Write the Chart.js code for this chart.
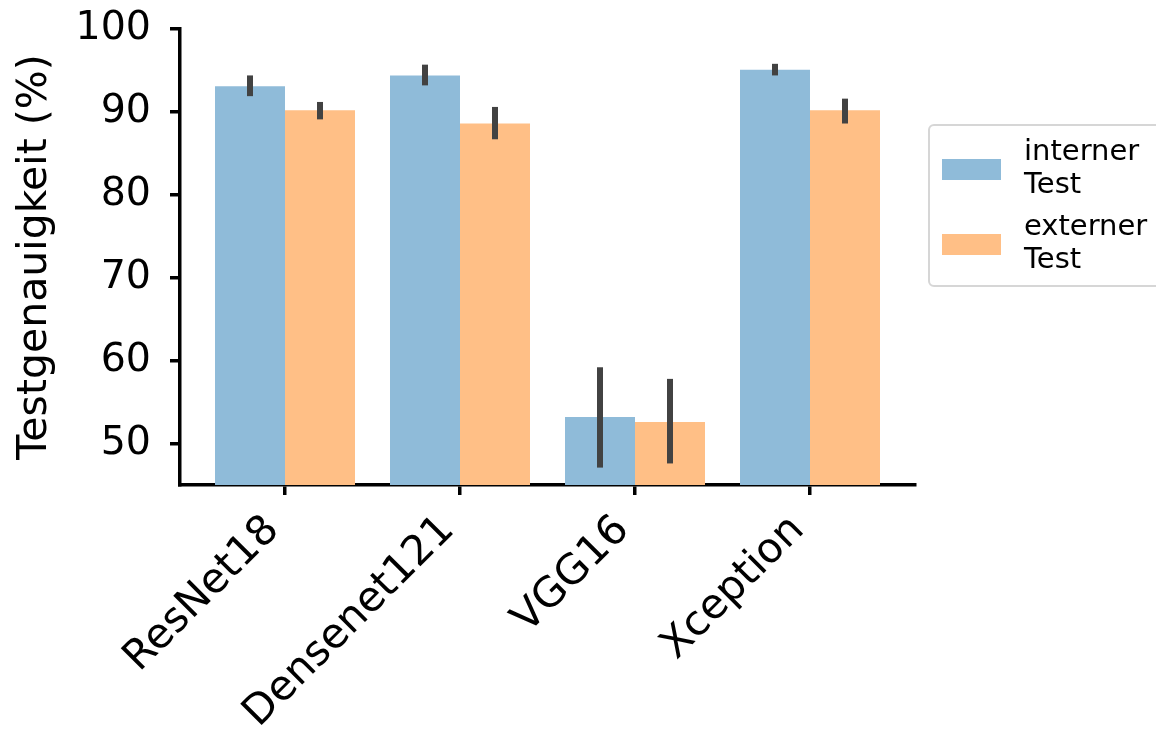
<!DOCTYPE html>
<html>
<head>
<meta charset="utf-8">
<script src="https://cdn.jsdelivr.net/npm/chart.js@4/dist/chart.umd.min.js"></script>
<style>
  body { margin: 0; background: #fff; }
  #wrap { width: 1156px; height: 729px; }
</style>
</head>
<body>
<div id="wrap"><canvas id="myChart" width="1156" height="729"></canvas></div>
<script>
const modelos = ['ResNet18', 'Densenet121', 'VGG16', 'Xception'];
const serieNombres = [['interner', 'Test'], ['externer', 'Test']];
const interno = [93.1, 94.4, 53.2, 95.1];
const externo = [90.2, 88.6, 52.6, 90.2];
const internoMin = [91.9, 93.2, 47.1, 94.4];
const internoMax = [94.4, 95.7, 59.2, 95.8];
const externoMin = [89.1, 86.7, 47.6, 88.6];
const externoMax = [91.2, 90.6, 57.8, 91.6];
const yTicks = [50, 60, 70, 80, 90, 100];

const colores = ['#8fbbd9', '#ffbf86'];
const fuente = 'DejaVu Sans';

const errores = [
  { min: internoMin, max: internoMax },
  { min: externoMin, max: externoMax }
];

// barras de error con las escalas del grafico
const errorBars = {
  id: 'errorBars',
  afterDatasetsDraw(chart) {
    const ctx = chart.ctx;
    const y = chart.scales.y;
    ctx.save();
    ctx.strokeStyle = '#424242';
    ctx.lineWidth = 6;
    chart.data.datasets.forEach((ds, i) => {
      const meta = chart.getDatasetMeta(i);
      meta.data.forEach((bar, j) => {
        ctx.beginPath();
        ctx.moveTo(bar.x, y.getPixelForValue(errores[i].min[j]));
        ctx.lineTo(bar.x, y.getPixelForValue(errores[i].max[j]));
        ctx.stroke();
      });
    });
    ctx.restore();
  }
};

// leyenda a la derecha con etiquetas de dos lineas
const leyenda = {
  id: 'leyenda',
  afterDraw(chart) {
    const ctx = chart.ctx;
    const x0 = 929, y0 = 125, w = 240, h = 161;
    ctx.save();
    ctx.fillStyle = 'rgba(255,255,255,0.8)';
    ctx.strokeStyle = '#d6d6d6';
    ctx.lineWidth = 2;
    ctx.beginPath();
    ctx.roundRect(x0, y0, w, h, 5);
    ctx.fill();
    ctx.stroke();
    ctx.font = '29px "' + fuente + '"';
    ctx.textBaseline = 'middle';
    serieNombres.forEach((lineas, i) => {
      const top = y0 + 34 + i * 75;
      ctx.fillStyle = colores[i];
      ctx.fillRect(942, top, 59, 21);
      ctx.fillStyle = '#000';
      lineas.forEach((t, k) => {
        ctx.fillText(t, 1024, top - 7 + k * 33);
      });
    });
    ctx.restore();
  }
};

const config = {
  type: 'bar',
  data: {
    datasets: [
      {
        label: serieNombres[0].join(' '),
        backgroundColor: colores[0],
        data: interno.map((v, i) => ({ x: i, y: v }))
      },
      {
        label: serieNombres[1].join(' '),
        backgroundColor: colores[1],
        data: externo.map((v, i) => ({ x: i, y: v }))
      }
    ]
  },
  options: {
    responsive: false,
    animation: false,
    categoryPercentage: 0.8,
    barPercentage: 1.0,
    layout: { padding: { top: 29, right: 241, left: 0, bottom: 0 } },
    plugins: {
      legend: { display: false },
      tooltip: { enabled: false }
    },
    scales: {
      x: {
        type: 'linear',
        offset: false,
        min: -0.6,
        max: 3.6,
        afterBuildTicks: (scale) => {
          scale.ticks = modelos.map((m, i) => ({ value: i }));
        },
        afterFit: (scale) => { scale.height = 244; },
        ticks: {
          autoSkip: false,
          minRotation: 45,
          maxRotation: 45,
          padding: 11,
          labelOffset: -12,
          color: '#000',
          font: { family: fuente, size: 41.5 },
          callback: (v) => modelos[v]
        },
        grid: {
          offset: false,
          drawOnChartArea: false,
          drawTicks: true,
          tickLength: 10,
          color: '#000',
          lineWidth: 3.5
        },
        border: { display: true, color: '#000', width: 3.5 }
      },
      y: {
        min: 45,
        max: 100,
        afterBuildTicks: (scale) => {
          scale.ticks = yTicks.map((v) => ({ value: v }));
        },
        afterFit: (scale) => {
          scale.width = 180;
          scale.paddingTop = 0;
          scale.paddingBottom = 0;
        },
        ticks: {
          padding: 19,
          color: '#000',
          font: { family: fuente, size: 39.5 }
        },
        grid: {
          drawOnChartArea: false,
          drawTicks: true,
          tickLength: 10,
          color: '#000',
          lineWidth: 3.5
        },
        border: { display: true, color: '#000', width: 3.5 },
        title: {
          display: true,
          text: 'Testgenauigkeit (%)',
          color: '#000',
          font: { family: fuente, size: 41 },
          padding: { top: 11, bottom: 0 }
        }
      }
    }
  },
  plugins: [errorBars, leyenda]
};

const chart = new Chart(document.getElementById('myChart'), config);
</script>
</body>
</html>
